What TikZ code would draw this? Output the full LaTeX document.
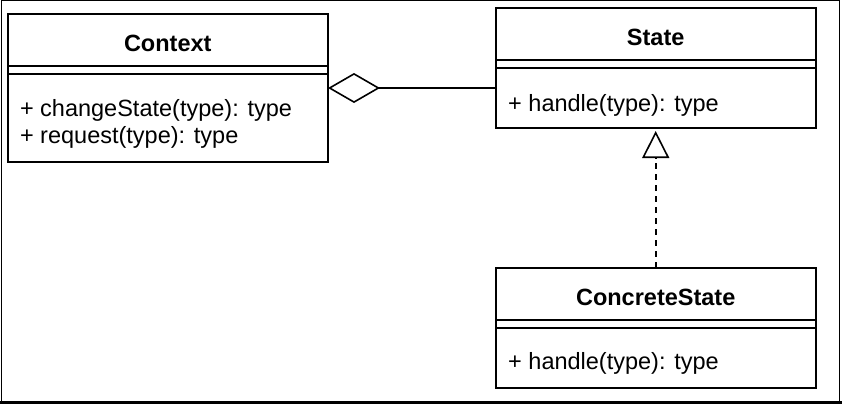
\documentclass[tikz,border=0pt]{standalone}
\usepackage{fontspec}
\setmainfont{Liberation Sans}
\usetikzlibrary{arrows.meta,positioning,calc}

\begin{document}
\begin{tikzpicture}[
    x=1pt, y=-1pt,
    every node/.style={outer sep=0pt},
    head/.style={rectangle,draw,line width=2pt,minimum width=320pt,minimum height=52pt,
      inner sep=0pt,text height=23pt,text depth=0pt,font=\fontsize{23.5}{24}\selectfont\bfseries},
    gap/.style={rectangle,draw,line width=2pt,minimum width=320pt,minimum height=8pt,inner sep=0pt},
    body/.style={rectangle,draw,line width=2pt,minimum width=320pt,inner sep=0pt},
    ops/.style={inner sep=0pt,align=left,font=\fontsize{23.5}{27}\selectfont},
    aggregation/.style={-{Diamond[open,length=52pt,width=30pt,line width=1.6pt]},line width=1.8pt},
    realization/.style={-{Triangle[open,length=27pt,width=27pt,line width=1.6pt]},line width=1.8pt,
      dash pattern=on 6pt off 5pt,shorten >=3pt}
  ]
    \useasboundingbox (0,0) rectangle (842,404);
    % frame
    \draw[line width=1pt] (1,402) -- (1,1) -- (839,1) -- (839,402);
    \fill (0,401) rectangle (842,404);

    \node[head,minimum width=320.5pt,anchor=north west] (contexthead) at (7.5,14) {Context};
    \node[gap,minimum width=320.5pt,below=0pt of contexthead] (contextgap) {};
    \node[body,minimum width=320.5pt,minimum height=88pt,below=0pt of contextgap] (contextbody) {};
    \node[ops,anchor=north west] (contextops) at ([shift={(12.5pt,-25.5pt)}]contextbody.north west)
      {+ changeState(type): type\\+ request(type): type};

    \node[head,anchor=north west] (statehead) at (495.7,8) {State};
    \node[gap,below=0pt of statehead] (stategap) {};
    \node[body,minimum height=60pt,below=0pt of stategap] (statebody) {};
    \node[ops,anchor=north west] (stateops) at ([shift={(12.5pt,-26pt)}]statebody.north west)
      {+ handle(type): type};

    \node[head,below=139.7pt of statebody] (concretehead) {ConcreteState};
    \node[gap,below=0pt of concretehead] (concretegap) {};
    \node[body,minimum height=60pt,below=0pt of concretegap] (concretebody) {};
    \node[ops,anchor=north west] (concreteops) at ([shift={(12.5pt,-25pt)}]concretebody.north west)
      {+ handle(type): type};

    \coordinate (contextport) at ($(contexthead.north east)!0.5!(contextbody.south east)$);
    \draw[aggregation] (contextport -| statebody.west) -- (contextport);
    \draw[realization] (concretehead) -- (statebody);
  \end{tikzpicture}
\end{document}
